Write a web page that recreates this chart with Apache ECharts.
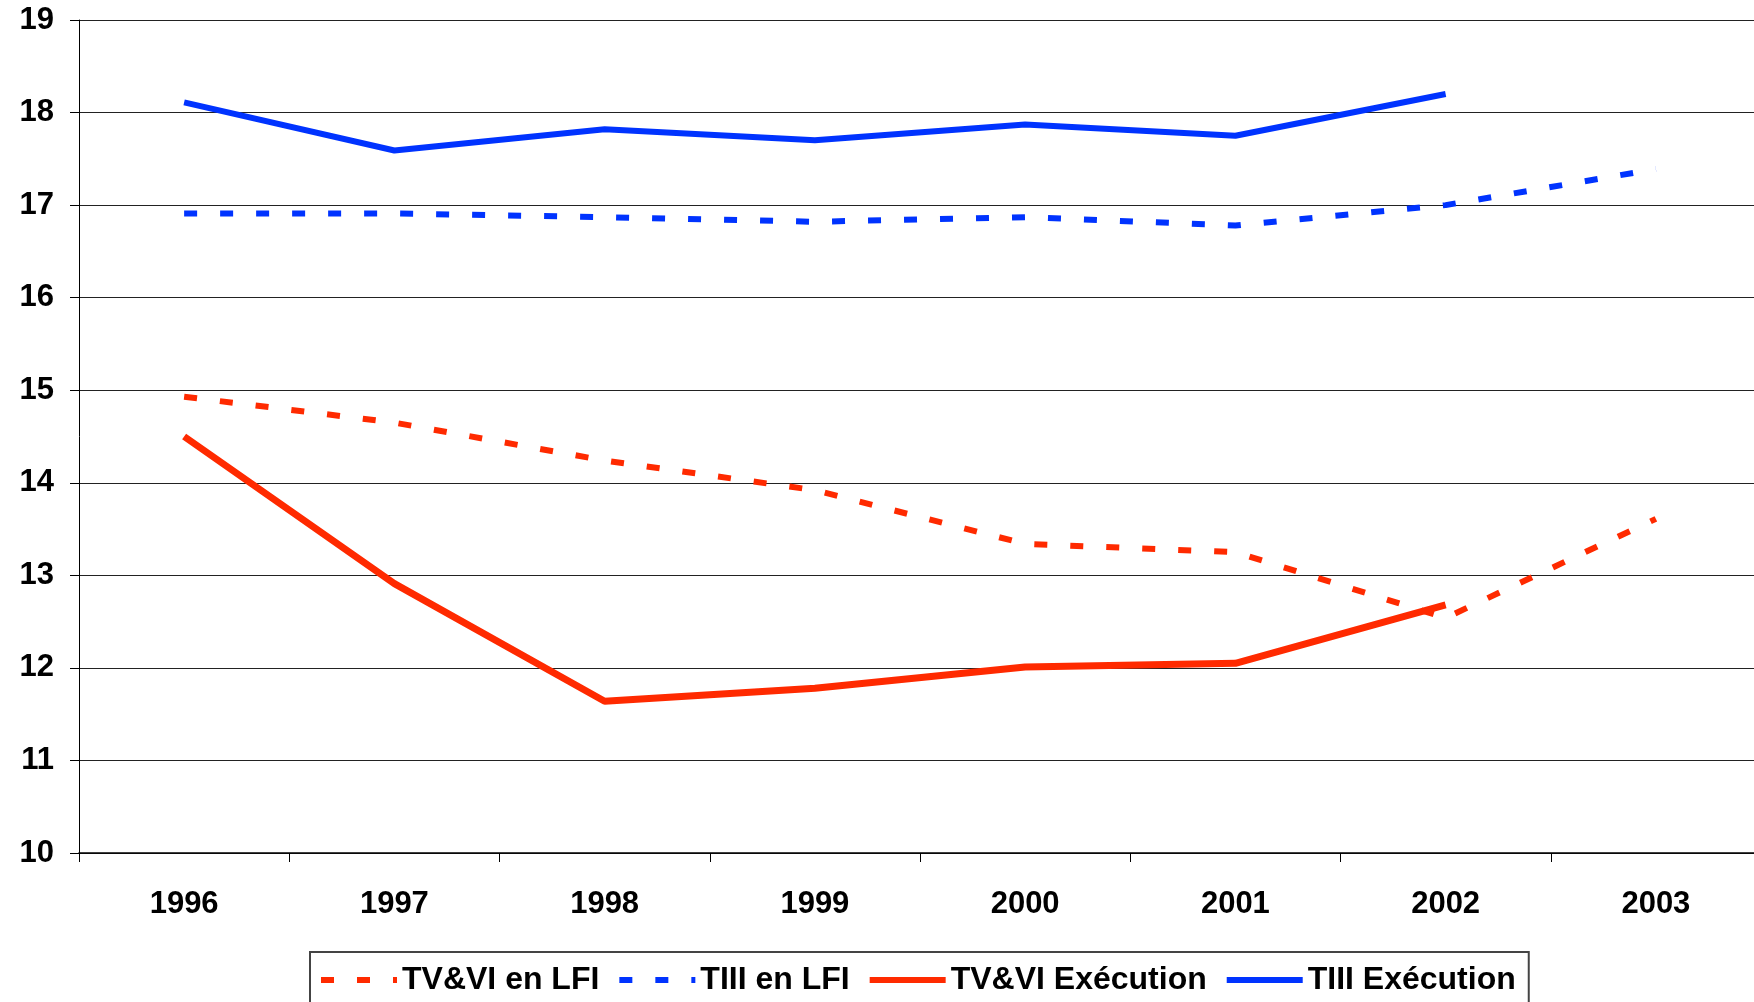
<!DOCTYPE html>
<html>
<head>
<meta charset="utf-8">
<script src="https://cdn.jsdelivr.net/npm/echarts@6/dist/echarts.min.js"></script>
<style>
  html, body { margin: 0; padding: 0; background: #fff; }
  #chart { width: 1754px; height: 1002px; }
</style>
</head>
<body>
<div id="chart"></div>
<script>
// years on the x axis
var years = ["1996", "1997", "1998", "1999", "2000", "2001", "2002", "2003"];

// series values
var tvviLfi = [14.93, 14.65, 14.24, 13.92, 13.34, 13.25, 12.54, 13.61];
var tiiiLfi = [16.91, 16.91, 16.87, 16.82, 16.87, 16.78, 17.0, 17.39];
var tvviExec = [14.5, 12.91, 11.64, 11.78, 12.01, 12.05, 12.68, null];
var tiiiExec = [18.11, 17.59, 17.82, 17.7, 17.87, 17.75, 18.2, null];

var RED = "#FF2A00";
var BLUE = "#0033FF";
var FONT = "Liberation Sans, Arial, sans-serif";

var myChart = echarts.init(document.getElementById("chart"));

var option = {
  animation: false,
  grid: {
    left: 79,
    width: 1682, // plot runs slightly past the right edge
    top: 20,
    bottom: 149,
    outerBoundsMode: "none"
  },
  legend: {
    top: 952,
    left: 310,
    itemGap: 17,
    itemWidth: 76,
    itemHeight: 6,
    padding: [12, 13, 30, 8],
    borderColor: "#444",
    borderWidth: 2,
    itemStyle: { opacity: 0 },
    lineStyle: { width: 6, cap: "butt" },
    textStyle: {
      fontFamily: FONT,
      fontWeight: "bold",
      fontSize: 32,
      color: "#000"
    },
    data: ["TV&VI en LFI", "TIII en LFI", "TV&VI Exécution", "TIII Exécution"]
  },
  xAxis: {
    type: "category",
    data: years,
    boundaryGap: true,
    axisLine: { lineStyle: { color: "#000", width: 1.5 } },
    axisTick: { show: true, length: 9, lineStyle: { color: "#000" } },
    axisLabel: {
      margin: 36,
      fontFamily: FONT,
      fontWeight: "bold",
      fontSize: 31,
      color: "#000"
    }
  },
  yAxis: {
    type: "value",
    min: 10,
    max: 19,
    interval: 1,
    axisLine: { show: true, lineStyle: { color: "#000", width: 1 } },
    axisTick: { show: true, length: 9, lineStyle: { color: "#000" } },
    axisLabel: {
      margin: 25,
      fontFamily: FONT,
      fontWeight: "bold",
      fontSize: 31,
      color: "#000"
    },
    splitLine: { lineStyle: { color: "#222", width: 1 } }
  },
  series: [
    {
      name: "TV&VI en LFI",
      type: "line",
      symbol: "none",
      data: tvviLfi,
      itemStyle: { color: RED },
      lineStyle: { color: RED, width: 6, type: [13, 23], cap: "butt" }
    },
    {
      name: "TIII en LFI",
      type: "line",
      symbol: "none",
      data: tiiiLfi,
      itemStyle: { color: BLUE },
      lineStyle: { color: BLUE, width: 6, type: [13, 23], cap: "butt" }
    },
    {
      name: "TV&VI Exécution",
      type: "line",
      symbol: "none",
      data: tvviExec,
      itemStyle: { color: RED },
      lineStyle: { color: RED, width: 7 }
    },
    {
      name: "TIII Exécution",
      type: "line",
      symbol: "none",
      data: tiiiExec,
      itemStyle: { color: BLUE },
      lineStyle: { color: BLUE, width: 6 }
    }
  ]
};

myChart.setOption(option);
</script>
</body>
</html>
